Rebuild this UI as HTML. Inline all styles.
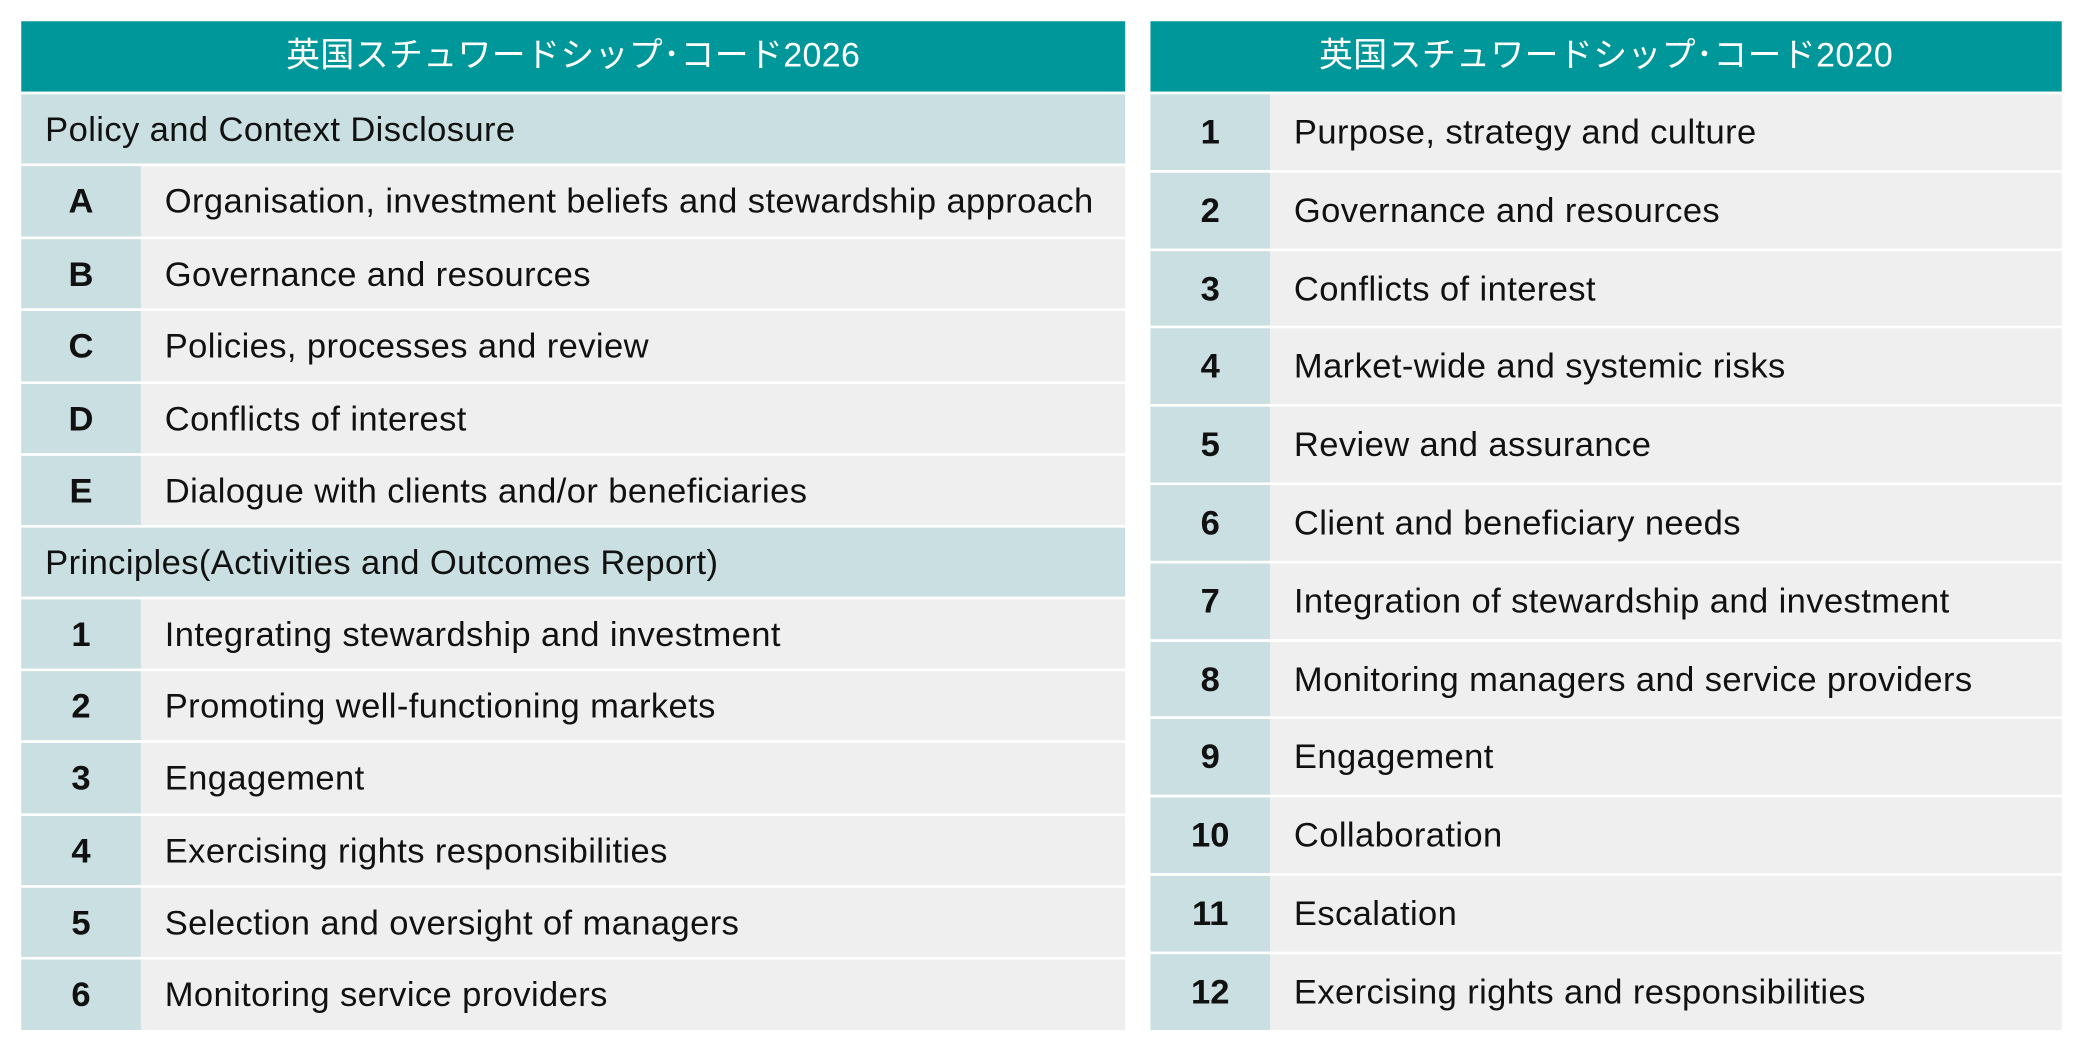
<!DOCTYPE html>
<html><head><meta charset="utf-8"><style>
html,body{margin:0;padding:0;background:#fff;width:2083px;height:1050px;overflow:hidden}
#w{position:absolute;left:0;top:0;width:1568px;height:790px;transform:scale(1.32844,1.3291);transform-origin:0 0;font-family:"Liberation Sans","Noto Sans CJK JP",sans-serif;color:#111}
.t{position:absolute;top:16px}
.h{position:absolute;left:0;right:0;top:0;height:53px;background:#00979A;color:#fff;font-size:25.5px;letter-spacing:0.3px;line-height:53px;text-align:center;font-family:"Liberation Sans","Noto Sans CJK JP",sans-serif}
.r{position:absolute;left:0;right:0;background:#EFEFEF;border-top:2px solid #fff;box-sizing:border-box;font-size:26px;letter-spacing:0.3px}
.r .n{position:absolute;left:0;top:0;bottom:0;width:90px;background:#CADFE1;text-align:center;font-weight:bold;letter-spacing:0}
.r .x{position:absolute;left:108px;white-space:nowrap}
.s{background:#CADFE1}
.s .x{left:18px}
</style></head><body><div id="w">
<div class="t" style="left:16px;width:831px;height:759px">
<div class="h">英国スチュワードシップ･コード2026</div>
<div class="r s" style="top:53px;height:54px;line-height:52px"><span class="x">Policy and Context Disclosure</span></div>
<div class="r" style="top:107px;height:55px;line-height:53px"><span class="n">A</span><span class="x">Organisation, investment beliefs and stewardship approach</span></div>
<div class="r" style="top:162px;height:54px;line-height:52px"><span class="n">B</span><span class="x">Governance and resources</span></div>
<div class="r" style="top:216px;height:55px;line-height:53px"><span class="n">C</span><span class="x">Policies, processes and review</span></div>
<div class="r" style="top:271px;height:54px;line-height:52px"><span class="n">D</span><span class="x">Conflicts of interest</span></div>
<div class="r" style="top:325px;height:54px;line-height:52px"><span class="n">E</span><span class="x">Dialogue with clients and/or beneficiaries</span></div>
<div class="r s" style="top:379px;height:54px;line-height:52px"><span class="x">Principles(Activities and Outcomes Report)</span></div>
<div class="r" style="top:433px;height:54px;line-height:52px"><span class="n">1</span><span class="x">Integrating stewardship and investment</span></div>
<div class="r" style="top:487px;height:54px;line-height:52px"><span class="n">2</span><span class="x">Promoting well-functioning markets</span></div>
<div class="r" style="top:541px;height:55px;line-height:53px"><span class="n">3</span><span class="x">Engagement</span></div>
<div class="r" style="top:596px;height:54px;line-height:52px"><span class="n">4</span><span class="x">Exercising rights responsibilities</span></div>
<div class="r" style="top:650px;height:54px;line-height:52px"><span class="n">5</span><span class="x">Selection and oversight of managers</span></div>
<div class="r" style="top:704px;height:55px;line-height:53px"><span class="n">6</span><span class="x">Monitoring service providers</span></div>
</div>
<div class="t" style="left:866px;width:686px;height:759px">
<div class="h">英国スチュワードシップ･コード2020</div>
<div class="r" style="top:53px;height:59px;line-height:57px"><span class="n">1</span><span class="x">Purpose, strategy and culture</span></div>
<div class="r" style="top:112px;height:59px;line-height:57px"><span class="n">2</span><span class="x">Governance and resources</span></div>
<div class="r" style="top:171px;height:58px;line-height:56px"><span class="n">3</span><span class="x">Conflicts of interest</span></div>
<div class="r" style="top:229px;height:59px;line-height:57px"><span class="n">4</span><span class="x">Market-wide and systemic risks</span></div>
<div class="r" style="top:288px;height:59px;line-height:57px"><span class="n">5</span><span class="x">Review and assurance</span></div>
<div class="r" style="top:347px;height:59px;line-height:57px"><span class="n">6</span><span class="x">Client and beneficiary needs</span></div>
<div class="r" style="top:406px;height:59px;line-height:57px"><span class="n">7</span><span class="x">Integration of stewardship and investment</span></div>
<div class="r" style="top:465px;height:58px;line-height:56px"><span class="n">8</span><span class="x">Monitoring managers and service providers</span></div>
<div class="r" style="top:523px;height:59px;line-height:57px"><span class="n">9</span><span class="x">Engagement</span></div>
<div class="r" style="top:582px;height:59px;line-height:57px"><span class="n">10</span><span class="x">Collaboration</span></div>
<div class="r" style="top:641px;height:59px;line-height:57px"><span class="n">11</span><span class="x">Escalation</span></div>
<div class="r" style="top:700px;height:59px;line-height:57px"><span class="n">12</span><span class="x">Exercising rights and responsibilities</span></div>
</div>
</div></body></html>
